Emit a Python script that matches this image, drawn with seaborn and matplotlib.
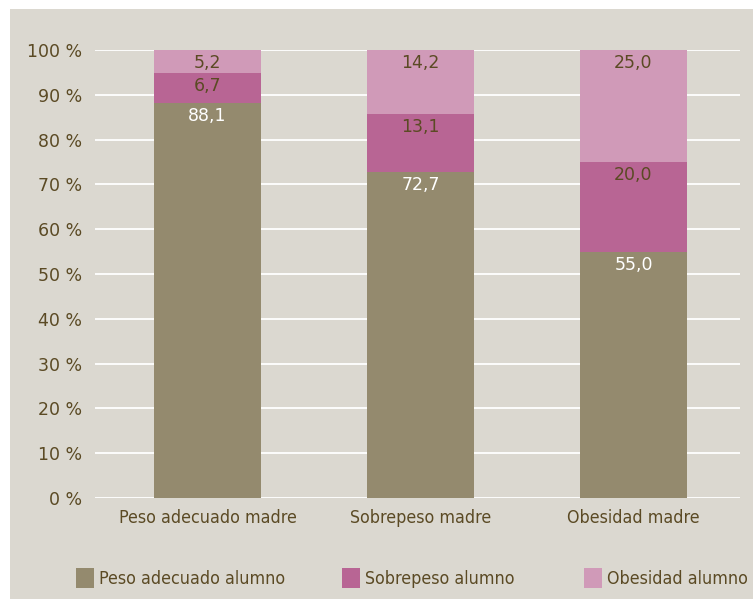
import matplotlib
matplotlib.use("Agg")
import matplotlib.pyplot as plt
import seaborn as sns
import pandas as pd
import numpy as np
from matplotlib.patches import Rectangle, Patch
from matplotlib import font_manager as fm

categories = ["Peso adecuado madre", "Sobrepeso madre", "Obesidad madre"]
series_names = ["Peso adecuado alumno", "Sobrepeso alumno", "Obesidad alumno"]
peso_adecuado = [88.1, 72.7, 55.0]
sobrepeso = [6.7, 13.1, 20.0]
obesidad = [5.2, 14.2, 25.0]
value_labels = [["88,1", "72,7", "55,0"], ["6,7", "13,1", "20,0"], ["5,2", "14,2", "25,0"]]
yticks = [0, 10, 20, 30, 40, 50, 60, 70, 80, 90, 100]
ytick_labels = [f"{v} %" for v in yticks]

colors = ["#948a6e", "#b86594", "#d09ab8"]
text_dark = "#5b4a24"
bg = "#dbd8d0"

sns.set_theme(style="white")
plt.rcParams['font.family'] = ['DejaVu Sans']

names = sorted({f.name for f in fm.fontManager.ttflist})
narrow = "Liberation Sans Narrow" if "Liberation Sans Narrow" in names else (
    "DejaVu Sans Condensed" if "DejaVu Sans Condensed" in names else "DejaVu Sans")
narrow_stretch = "normal" if narrow != "DejaVu Sans" else "condensed"

W, H = 753, 599
fig = plt.figure(figsize=(W / 100, H / 100), dpi=100, facecolor="white")
fig.patches.append(Rectangle((10 / W, 0), (W - 10) / W, (H - 9) / H,
                             transform=fig.transFigure, facecolor=bg,
                             edgecolor="none", zorder=-5))
ax = fig.add_axes([95 / W, 101 / H, (740 - 95) / W, (549 - 101) / H])
ax.set_facecolor(bg)
ax.patch.set_alpha(0)

series = [peso_adecuado, sobrepeso, obesidad]
cum = np.cumsum(np.array(series), axis=0)
for i in reversed(range(3)):
    d = pd.DataFrame({"cat": categories, "val": cum[i]})
    sns.barplot(data=d, x="cat", y="val", color=colors[i], width=0.5,
                saturation=1, ax=ax, zorder=3, linewidth=0)

for i in range(3):
    for j in range(3):
        top = cum[i][j]
        ax.annotate(value_labels[i][j], xy=(j, top), xytext=(0, -3),
                    textcoords="offset points", ha="center", va="top",
                    fontsize=12.5, color="white" if i == 0 else text_dark,
                    zorder=5)

ax.set_ylim(0, 100)
ax.set_xlim(-0.528, 2.5)
ax.set_yticks(yticks)
ax.set_yticklabels(ytick_labels, fontsize=12.5, color=text_dark)
ax.yaxis.grid(True, color="white", linewidth=1.3, zorder=1)
ax.set_axisbelow(True)
ax.set_xlabel("")
ax.set_ylabel("")
ax.tick_params(axis="y", length=0, pad=9)
ax.tick_params(axis="x", length=0, pad=8)
ax.set_xticks(range(3))
ax.set_xticklabels(categories, fontsize=12.8, color=text_dark,
                   family=narrow, stretch=narrow_stretch)
for s in ax.spines.values():
    s.set_visible(False)

legend_x = [76, 342, 584]
for i in range(3):
    h = Patch(facecolor=colors[i], edgecolor="none")
    lg = fig.legend([h], [series_names[i]], loc="center left",
                    bbox_to_anchor=(legend_x[i] / W, (H - 578) / H),
                    frameon=False, handlelength=1.0, handleheight=1.3,
                    handletextpad=0.3, borderpad=0, borderaxespad=0,
                    prop={"family": narrow, "size": 12.8, "stretch": narrow_stretch})
    for t in lg.get_texts():
        t.set_color(text_dark)

fig.savefig("out.png", dpi=100, facecolor="white")
